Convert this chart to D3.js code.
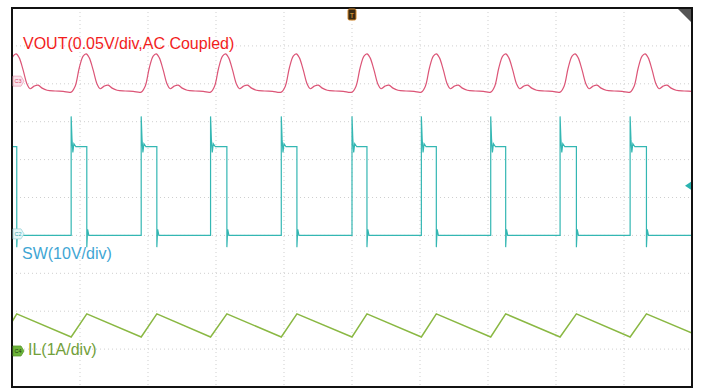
<!DOCTYPE html>
<html>
<head>
<meta charset="utf-8">
<script src="https://cdn.jsdelivr.net/npm/d3@7"></script>
<style>
  body { margin: 0; background: #fff; }
  svg { display: block; }
</style>
</head>
<body>
<div id="wrapper"></div>
<script>
// time in divisions (10 div across), values in channel units
const swRise = [-0.16, 0.87, 1.90, 2.92, 3.96, 5.00, 6.02, 7.04, 8.06, 9.09];
const swFall = [0.07, 1.10, 2.13, 3.16, 4.19, 5.22, 6.24, 7.26, 8.30, 9.33];
// SW levels (V)
const swLow = -0.4;
const swHigh = 23;
const swTrigLevel = 12.7;
// ringing after each edge: [dt (div), V]
const swRiseRing = [[0, 31], [0.012, 25], [0.025, 21.5], [0.04, 23.8], [0.07, 23]];
const swFallRing = [[0, -3.5], [0.012, 1.2], [0.03, -0.4]];

// VOUT ripple over one switching cycle, from SW rising edge: [dt (div), mV]
const voutCycle = [
  [0, -14.5], [0.059, -6.6], [0.118, 17], [0.176, 33], [0.221, 36],
  [0.265, 31], [0.324, 14.5], [0.382, -4], [0.426, -10], [0.485, -6.6],
  [0.544, -5.3], [0.603, -9.2], [0.676, -12], [0.794, -13], [0.912, -13.5]
];

// inductor current (A)
const ilTime = [0, 0.07, 0.87, 1.10, 1.90, 2.13, 2.92, 3.16, 3.96, 4.19, 5.00, 5.22,
                6.02, 6.24, 7.04, 7.26, 8.06, 8.30, 9.09, 9.33, 10];
const ilAmp = [0.77, 0.98, 0.37, 0.98, 0.37, 0.98, 0.37, 0.98, 0.37, 0.98, 0.37, 0.98,
               0.37, 0.98, 0.37, 0.98, 0.37, 0.98, 0.37, 0.98, 0.47];

const channels = [
  {name: "C3", label: "VOUT(0.05V/div,AC Coupled)", perDiv: 50, offset: 3.07},
  {name: "C2", label: "SW(10V/div)", perDiv: 10, offset: -0.96},
  {name: "C4", label: "IL(1A/div)", perDiv: 1, offset: -4.05}
];

let dimensions = {
  width: 702,
  height: 389,
  margin: {top: 8, right: 10, bottom: 2, left: 12},
};
dimensions.boundedWidth = dimensions.width - dimensions.margin.left - dimensions.margin.right;
dimensions.boundedHeight = dimensions.height - dimensions.margin.top - dimensions.margin.bottom;

const svg = d3.select("#wrapper").append("svg")
  .attr("width", dimensions.width)
  .attr("height", dimensions.height);

const bounds = svg.append("g")
  .attr("transform", `translate(${dimensions.margin.left},${dimensions.margin.top})`);

const xScale = d3.scaleLinear().domain([0, 10]).range([0, dimensions.boundedWidth]);
const yScale = d3.scaleLinear().domain([-5, 5]).range([dimensions.boundedHeight, 0]);

// grid
const grid = bounds.append("g");
grid.selectAll(".gx").data(d3.range(1, 10)).join("line")
  .attr("x1", d => xScale(d)).attr("x2", d => xScale(d))
  .attr("y1", 0).attr("y2", dimensions.boundedHeight)
  .attr("stroke", "#cfcfcf").attr("stroke-width", 1).attr("stroke-dasharray", "1,3");
grid.selectAll(".gy").data(d3.range(-4, 5)).join("line")
  .attr("y1", d => yScale(d)).attr("y2", d => yScale(d))
  .attr("x1", 0).attr("x2", dimensions.boundedWidth)
  .attr("stroke", "#cfcfcf").attr("stroke-width", 1).attr("stroke-dasharray", "1,3");

bounds.append("clipPath").attr("id", "clip").append("rect")
  .attr("width", dimensions.boundedWidth).attr("height", dimensions.boundedHeight);
const traces = bounds.append("g").attr("clip-path", "url(#clip)");

const yFor = ch => v => yScale(v / ch.perDiv + ch.offset);

// VOUT
const yV = yFor(channels[0]);
let voutPts = [];
swRise.forEach(r => voutCycle.forEach(([dt, v]) => voutPts.push([r + dt, v])));
voutPts.push([swRise[swRise.length - 1] + 1.03, -14.5]);
const voutLine = d3.line().x(d => xScale(d[0])).y(d => yV(d[1])).curve(d3.curveCatmullRom);
traces.append("path")
  .attr("d", voutLine(voutPts))
  .attr("fill", "none").attr("stroke", "#dc5577").attr("stroke-width", 1.2);

// SW
const yS = yFor(channels[1]);
let swPts = [[0, swHigh]];
swFall.forEach((f, i) => {
  swPts.push([f, swHigh]);
  swFallRing.forEach(([dt, v]) => swPts.push([f + dt, v]));
  const r = swRise[i + 1];
  if (r !== undefined) {
    swPts.push([r, swLow]);
    swRiseRing.forEach(([dt, v]) => swPts.push([r + dt, v]));
  } else {
    swPts.push([10, swLow]);
  }
});
swPts.sort((a, b) => a[0] - b[0]);
const swLine = d3.line().x(d => xScale(d[0])).y(d => yS(d[1]));
traces.append("path")
  .attr("d", swLine(swPts))
  .attr("fill", "none").attr("stroke", "#34b7b3").attr("stroke-width", 1.2);

// IL
const yI = yFor(channels[2]);
const ilLine = d3.line().x((d, i) => xScale(ilTime[i])).y(d => yI(d));
traces.append("path")
  .attr("d", ilLine(ilAmp))
  .attr("fill", "none").attr("stroke", "#8ab843").attr("stroke-width", 1.5);

// frame
bounds.append("rect")
  .attr("width", dimensions.boundedWidth).attr("height", dimensions.boundedHeight)
  .attr("fill", "none").attr("stroke", "#111").attr("stroke-width", 2);

// corner triangle
bounds.append("path")
  .attr("d", `M${dimensions.boundedWidth - 14},1 L${dimensions.boundedWidth - 1},1 L${dimensions.boundedWidth - 1},14 Z`)
  .attr("fill", "#555");

// trigger position marker
bounds.append("rect")
  .attr("x", xScale(5) - 4).attr("y", 1).attr("width", 8).attr("height", 11).attr("rx", 1.5)
  .attr("fill", "#3b2a12").attr("stroke", "#d88a2a").attr("stroke-width", 1);
bounds.append("text")
  .attr("x", xScale(5)).attr("y", 10).attr("text-anchor", "middle")
  .attr("font-family", "Liberation Sans, Arial, sans-serif").attr("font-size", 7)
  .attr("fill", "#f0b040").text("T");

// trigger level arrow (SW)
bounds.append("path")
  .attr("d", `M${dimensions.boundedWidth - 7},${yS(swTrigLevel)} l6,-4 l0,8 Z`)
  .attr("fill", "#2ab3b0");

// channel ground markers
const markerStyle = [
  {fill: "#fbe4ec", stroke: "#e9a3b7", text: "#d9476b"},
  {fill: "#e8f7f8", stroke: "#9fd6db", text: "#3aa8b0"},
  {fill: "#6db43a", stroke: "#5a9a2e", text: "#1c3a0c"}
];
channels.forEach((ch, i) => {
  const y = yScale(ch.offset);
  const g = bounds.append("g").attr("transform", `translate(0,${y})`);
  g.append("path")
    .attr("d", "M1,-5 L9,-5 L12,0 L9,5 L1,5 Z")
    .attr("fill", markerStyle[i].fill).attr("stroke", markerStyle[i].stroke).attr("stroke-width", 0.8);
  g.append("text")
    .attr("x", 6).attr("y", 2).attr("text-anchor", "middle")
    .attr("font-family", "Liberation Sans, Arial, sans-serif").attr("font-size", 5.5)
    .attr("fill", markerStyle[i].text).text(ch.name);
});

// labels
const labelPos = [[11, 41, "#f21d1d"], [10, 251, "#3fa6d4"], [16, 347, "#72a03a"]];
channels.forEach((ch, i) => {
  bounds.append("text")
    .attr("x", labelPos[i][0]).attr("y", labelPos[i][1])
    .attr("font-family", "Liberation Sans, Arial, sans-serif").attr("font-size", 16)
    .attr("fill", labelPos[i][2]).text(ch.label);
});
</script>
</body>
</html>
